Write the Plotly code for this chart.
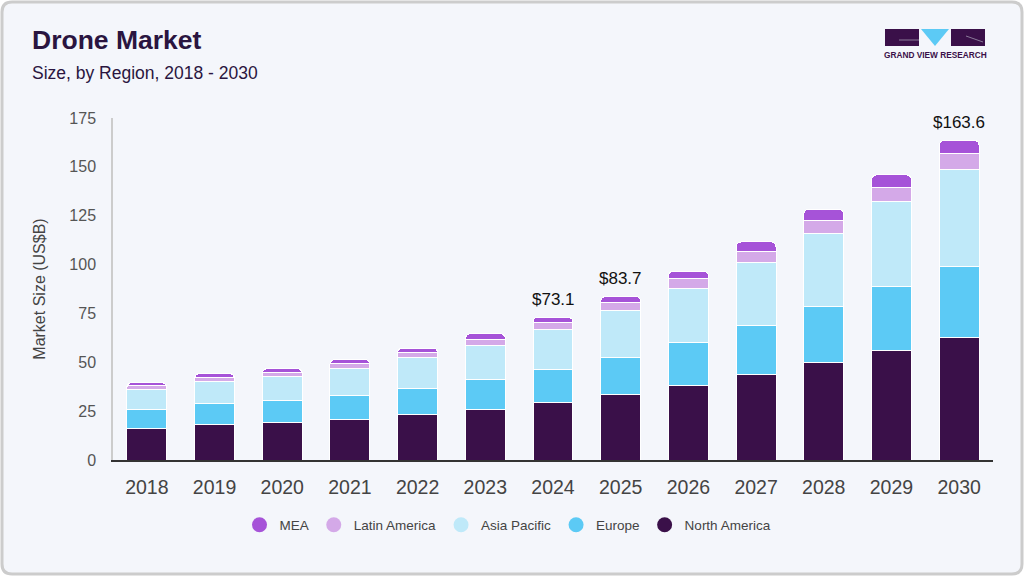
import plotly.graph_objects as go

years = ["2018", "2019", "2020", "2021", "2022", "2023", "2024", "2025", "2026", "2027", "2028", "2029", "2030"]
north_america = [16.2, 18.3, 19.3, 20.8, 23.4, 25.9, 29.5, 33.6, 38.2, 43.9, 50.0, 56.1, 62.8]
europe = [9.7, 10.7, 11.2, 12.3, 13.3, 15.4, 16.9, 19.0, 22.0, 25.0, 28.7, 32.8, 36.1]
asia_pacific = [10.3, 11.3, 12.3, 13.8, 15.7, 17.4, 20.4, 24.0, 27.7, 32.3, 37.1, 43.5, 49.9]
latin_america = [2.0, 1.8, 2.1, 2.6, 2.7, 3.0, 3.5, 4.1, 5.1, 5.6, 6.7, 7.2, 8.2]
mea = [1.4, 2.1, 1.8, 1.9, 2.2, 2.9, 2.8, 3.0, 3.7, 4.8, 5.8, 6.3, 6.6]
labeled_years = ["2024", "2025", "2030"]
labeled_totals = ["$73.1", "$83.7", "$163.6"]

series = [
    ("North America", north_america, "#3a1049"),
    ("Europe", europe, "#5ccaf5"),
    ("Asia Pacific", asia_pacific, "#bfe9f9"),
    ("Latin America", latin_america, "#d4a9e8"),
    ("MEA", mea, "#a653d8"),
]

W, H = 1024, 576
L, R, T, B = 113, 31, 118, 116
PW, PH = W - L - R, H - T - B

def px(x):
    return (x - L) / PW

def py(y):
    return (H - B - y) / PH

fig = go.Figure()
for name, vals, col in series:
    fig.add_trace(go.Bar(x=years, y=vals, name=name, marker=dict(color=col, line=dict(color="white", width=1)),
                         showlegend=False, hoverinfo="x+y"))
for name, vals, col in reversed(series):
    fig.add_trace(go.Scatter(x=[None], y=[None], mode="markers", name=name,
                             marker=dict(symbol="circle", size=15, color=col)))

totals = [sum(v) for v in zip(north_america, europe, asia_pacific, latin_america, mea)]
for yr, lab in zip(labeled_years, labeled_totals):
    idx = years.index(yr)
    fig.add_annotation(x=idx, y=totals[idx], xref="x", yref="y", text=lab, showarrow=False,
                       yanchor="bottom", yshift=6, font=dict(size=17, color="#111"))

# card background
r = 10
x0, y0, x1, y1 = 2, 2, 1022, 574
path = (f"M {px(x0+r)},{py(y0)} L {px(x1-r)},{py(y0)} Q {px(x1)},{py(y0)} {px(x1)},{py(y0+r)} "
        f"L {px(x1)},{py(y1-r)} Q {px(x1)},{py(y1)} {px(x1-r)},{py(y1)} "
        f"L {px(x0+r)},{py(y1)} Q {px(x0)},{py(y1)} {px(x0)},{py(y1-r)} "
        f"L {px(x0)},{py(y0+r)} Q {px(x0)},{py(y0)} {px(x0+r)},{py(y0)} Z")
shapes = [dict(type="path", xref="paper", yref="paper", path=path, fillcolor="#f4f6fb",
               line=dict(color="#cccccc", width=3), layer="below")]
# logo
logo_dark = "#3a1049"
shapes.append(dict(type="rect", xref="paper", yref="paper", x0=px(885), x1=px(919), y0=py(46), y1=py(29),
                   fillcolor=logo_dark, line=dict(width=0)))
shapes.append(dict(type="path", xref="paper", yref="paper",
                   path=f"M {px(921)},{py(29)} L {px(949)},{py(29)} L {px(935)},{py(46)} Z",
                   fillcolor="#5ccaf5", line=dict(width=0)))
shapes.append(dict(type="rect", xref="paper", yref="paper", x0=px(951), x1=px(985), y0=py(46), y1=py(29),
                   fillcolor=logo_dark, line=dict(width=0)))
shapes.append(dict(type="line", xref="paper", yref="paper", x0=px(899), x1=px(919), y0=py(40), y1=py(40),
                   line=dict(color="#8a7a99", width=1)))
shapes.append(dict(type="line", xref="paper", yref="paper", x0=px(966), x1=px(983), y0=py(36), y1=py(42),
                   line=dict(color="#8a7a99", width=1)))

fig.add_annotation(xref="paper", yref="paper", x=px(935), y=py(55), text="<b>GRAND VIEW RESEARCH</b>", showarrow=False,
                   font=dict(size=8.3, color="#3a1049", family="Liberation Sans"), xanchor="center", yanchor="middle")
fig.add_annotation(xref="paper", yref="paper", x=px(30), y=py(40), text="<b>Drone Market</b>", showarrow=False,
                   font=dict(size=26.5, color="#2a1540", family="Liberation Sans"), xanchor="left", yanchor="middle")
fig.add_annotation(xref="paper", yref="paper", x=px(30), y=py(73), text="Size, by Region, 2018 - 2030", showarrow=False,
                   font=dict(size=17.5, color="#2a1540", family="Liberation Sans"), xanchor="left", yanchor="middle")

fig.update_layout(
    width=W, height=H, margin=dict(l=L, r=R, t=T, b=B),
    paper_bgcolor="white", plot_bgcolor="rgba(0,0,0,0)",
    barmode="stack", bargap=0.41, barcornerradius=5,
    font=dict(family="Liberation Sans", color="#444"),
    shapes=shapes,
    legend=dict(orientation="h", x=px(508), xref="paper", xanchor="center", traceorder="normal",
                y=py(525), yanchor="middle", font=dict(size=13.5, color="#444"),
                bgcolor="rgba(0,0,0,0)"),
    xaxis=dict(type="category", range=[-0.5, 12.5], showline=True, linecolor="#333", linewidth=1.5,
               ticks="", tickfont=dict(size=19.5, color="#444"), showgrid=False, fixedrange=True,
               ticklabelstandoff=9),
    yaxis=dict(range=[0, 175], tickvals=[0, 25, 50, 75, 100, 125, 150, 175], showline=True,
               linecolor="#cccccc", linewidth=1.5, ticks="", tickfont=dict(size=16, color="#555"),
               showgrid=False, zeroline=False, ticklabelstandoff=12,
               title=dict(text="Market Size (US$B)", font=dict(size=16, color="#444"), standoff=20)),
)

fig.write_html("out.html", config={"displayModeBar": False},
               post_script="document.body.style.margin='0px';document.body.style.padding='0px';")
